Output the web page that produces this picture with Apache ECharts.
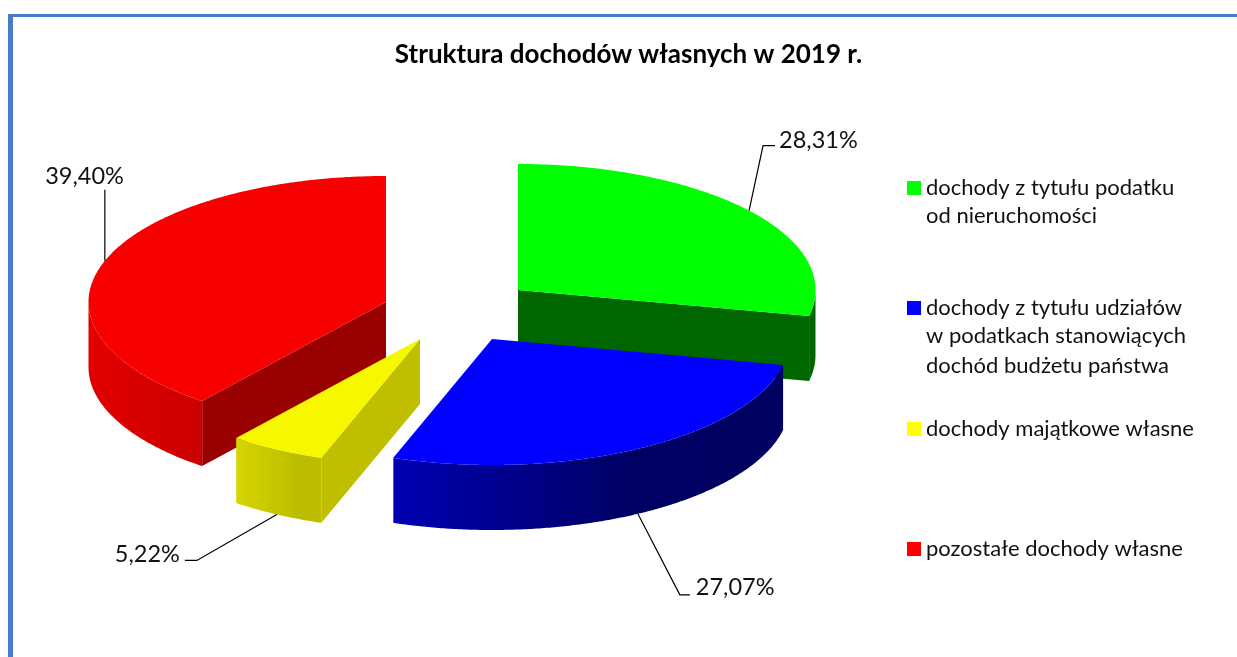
<!DOCTYPE html>
<html><head><meta charset="utf-8">
<style>html,body{margin:0;padding:0;background:#fff}#c{width:1237px;height:657px}</style>
<script src="https://cdn.jsdelivr.net/npm/echarts@6/dist/echarts.min.js"></script>
</head><body><div id="c"></div>
<script>
// --- data ---
const categories = [
  'dochody z tytułu podatku\nod nieruchomości',
  'dochody z tytułu udziałów\nw podatkach stanowiących\ndochód budżetu państwa',
  'dochody majątkowe własne',
  'pozostałe dochody własne'
];
const shares = [28.31, 27.07, 5.22, 39.40];
const legendColors = ['#00ff00', '#0000ff', '#ffff00', '#ff0000'];

// --- layout / style ---
const FONT = 'Lato';
const RX = 297.5, RY = 126, DEPTH = 65;
const apex = [[518, 290], [492, 339], [420, 339], [386, 302]];
const topColors = ['#00ff00', '#0000ff', '#f7f700', '#f70000'];
const innerColors = ['#006600', '#00008c', '#bfbf00', '#990000'];
const sideStops = [
  [[0, '#006600'], [1, '#006600']],
  [[0, '#0000b4'], [0.6, '#000064'], [1, '#000060']],
  [[0, '#d6d600'], [0.75, '#bcbc00'], [1, '#bcbc00']],
  [[0, '#e20000'], [1, '#cc0000']]
];
const zOrder = [1, 3, 4, 2];
const leaders = [
  {elbow: [14, -65], tail: 12, label: [4, -5], align: 'left', rim: 0},
  {elbow: [42, 81], tail: 10, label: [6, -7], align: 'left', rim: 1},
  {elbow: [-80, 46], tail: -12, label: [-5, -6], align: 'right', rim: 1},
  {elbow: [0, -71], tail: 0, label: [19, -13], align: 'right', rim: 0}
];
const legendTops = [180, 300, 421, 541];
const LEGEND_LINE = 29.4;
const LEGEND_TEXT_SHIFT = 3;

const total = shares.reduce((a, b) => a + b, 0);
const starts = [];
shares.reduce((acc, v, i) => { starts[i] = acc; return acc + v; }, 0);

function ell(c, deg, dy) {
  const t = deg * Math.PI / 180;
  return [c[0] + RX * Math.sin(t), c[1] - RY * Math.cos(t) + (dy || 0)];
}
function arc(c, a0, a1, dy) {
  const pts = [], n = Math.max(2, Math.ceil(Math.abs(a1 - a0) * 2));
  for (let k = 0; k <= n; k++) pts.push(ell(c, a0 + (a1 - a0) * k / n, dy));
  return pts;
}

function sliceRenderer(i) {
  return function (params, api) {
    const v = api.value(0);
    const a0 = starts[i] / total * 360, a1 = a0 + v / total * 360;
    const c = apex[i], kids = [];
    const wall = deg => {
      const p = ell(c, deg);
      kids.push({type: 'polygon', shape: {points: [c, p, [p[0], p[1] + DEPTH], [c[0], c[1] + DEPTH]]},
        style: {fill: innerColors[i]}});
    };
    if (Math.sin(a1 * Math.PI / 180) > 1e-6) wall(a1);
    if (Math.sin(a0 * Math.PI / 180) < -1e-6) wall(a0);
    const s0 = Math.max(a0, 90), s1 = Math.min(a1, 270);
    if (s1 > s0) {
      kids.push({type: 'polygon',
        shape: {points: arc(c, s0, s1, 0).concat(arc(c, s1, s0, DEPTH))},
        style: {fill: {type: 'linear', x: 0, y: 0, x2: 1, y2: 0,
          colorStops: sideStops[i].map(s => ({offset: s[0], color: s[1]}))}}});
    }
    kids.push({type: 'polygon', shape: {points: [c].concat(arc(c, a0, a1, 0))}, style: {fill: topColors[i]}});
    const L = leaders[i], mid = (a0 + a1) / 2;
    const p0 = ell(c, mid, L.rim ? DEPTH : 0);
    const p1 = [p0[0] + L.elbow[0], p0[1] + L.elbow[1]];
    const p2 = [p1[0] + L.tail, p1[1]];
    kids.push({type: 'polyline', shape: {points: [p0, p1, p2]},
      style: {fill: 'none', stroke: '#000', lineWidth: 1.2}});
    kids.push({type: 'text', x: p2[0] + L.label[0], y: p2[1] + L.label[1],
      style: {text: v.toFixed(2).replace('.', ',') + '%', font: '23.5px ' + FONT, fill: '#111',
        align: L.align, verticalAlign: 'middle'}});
    return {type: 'group', children: kids};
  };
}

// continuation lines of the wrapped legend entries
const legendExtra = [];
categories.forEach((name, i) => {
  name.split('\n').slice(1).forEach((line, k) => {
    legendExtra.push({type: 'text', x: 926, y: legendTops[i] + 7 + (k + 1) * LEGEND_LINE, silent: true,
      style: {text: line, font: '22px ' + FONT, fill: '#111', verticalAlign: 'middle'}});
  });
});

const chart = echarts.init(document.getElementById('c'), null, {renderer: 'canvas'});
chart.setOption({
  animation: false,
  backgroundColor: '#ffffff',
  title: {
    text: 'Struktura dochodów własnych w 2019 r.',
    left: 623.5, textAlign: 'center', top: 37,
    textStyle: {fontFamily: FONT, fontSize: 26, fontWeight: 'bold', color: '#000'}
  },
  legend: categories.map((name, i) => ({
    left: 907, top: legendTops[i] - LEGEND_TEXT_SHIFT, orient: 'vertical', icon: 'rect',
    itemWidth: 14, itemHeight: 14, selectedMode: false, padding: 0,
    data: [name],
    formatter: n => n.split('\n')[0],
    textStyle: {fontFamily: FONT, fontSize: 22, color: '#111', lineHeight: 14}
  })),
  graphic: [
    {type: 'rect', shape: {x: 8, y: 14, width: 1229, height: 3}, style: {fill: '#4a7aca'}, silent: true},
    {type: 'rect', shape: {x: 8, y: 14, width: 5, height: 643}, style: {fill: '#4a7aca'}, silent: true}
  ].concat(legendExtra),
  series: categories.map((name, i) => ({
    type: 'custom', name, coordinateSystem: 'none', silent: true, z: zOrder[i],
    itemStyle: {color: legendColors[i]},
    renderItem: sliceRenderer(i),
    data: [[shares[i]]]
  }))
});
</script></body></html>
